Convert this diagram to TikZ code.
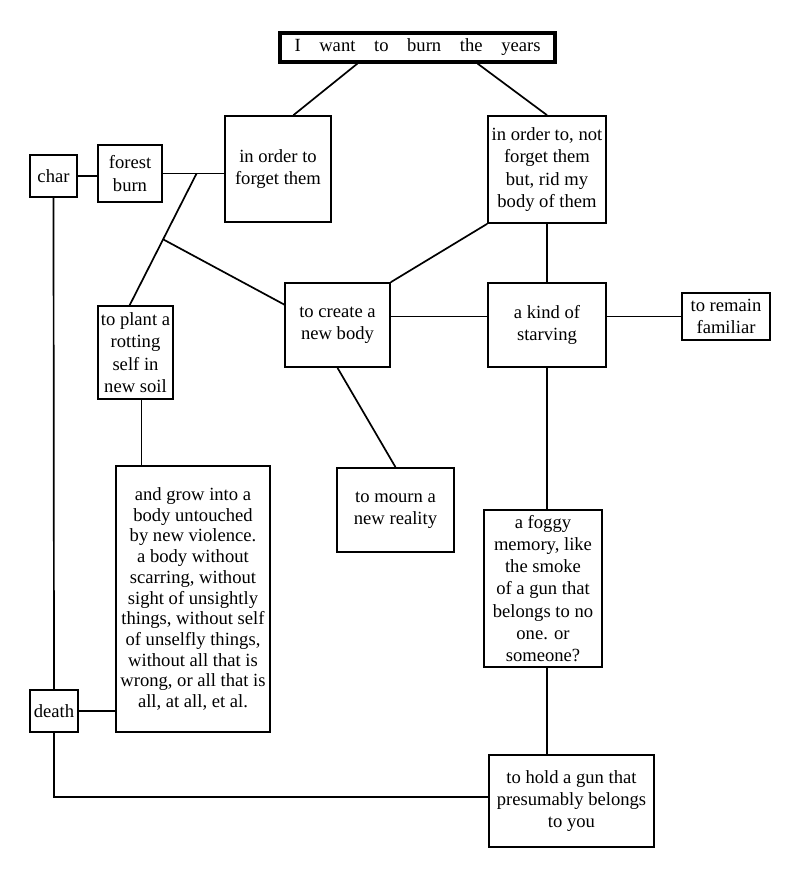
\documentclass[tikz,border=0pt]{standalone}
\usepackage{fontspec}
\setmainfont{Liberation Serif}
\usetikzlibrary{calc}

\begin{document}
\begin{tikzpicture}[x=1pt,y=-1pt,
        box/.style={draw, line width=1.7pt, inner sep=0pt, align=center,
          font=\fontsize{18.6}{22.3}\selectfont},
        link/.style={line width=1.7pt}]
        \useasboundingbox (0,0) rectangle (800,871);

        \node[box, line width=3.2pt, minimum width=275, minimum height=29] at (417.5,47.5) (title)
          {\makebox[246pt]{I\hfill want\hfill to\hfill burn\hfill the\hfill years}};
        \node[box, minimum width=106, minimum height=106] at (278,169) (forget) {in order to\\forget them};
        \node[box, minimum width=118, minimum height=107] at (547,169.5) (ridbody)
          {in order to, not\\forget them\\but, rid my\\body of them};
        \node[box, minimum width=47, minimum height=42] at (53.5,176) (char) {char};
        \node[box, minimum width=64, minimum height=57] at (130,173.5) (forest) {forest\\burn};
        \node[box, minimum width=75, minimum height=93] at (135.5,352.5) (plant)
          {to plant a\\rotting\\self in\\new soil};
        \node[box, minimum width=105, minimum height=84] at (337.5,325) (create) {to create a\\new body};
        \node[box, minimum width=118, minimum height=84] at (547,325) (starving) {a kind of\\starving};
        \node[box, minimum width=88, minimum height=47] at (726,316.5) (familiar) {to remain\\familiar};
        \node[box, minimum width=117, minimum height=84] at (395.5,510) (mourn) {to mourn a\\new reality};
        \node[box, minimum width=118, minimum height=157] at (543,588.5) (foggy)
          {a foggy\\memory, like\\the smoke\\of a gun that\\belongs to no\\one. or\\someone?};
        \node[box, minimum width=154, minimum height=266, font=\fontsize{18.6}{20.7}\selectfont] at (193,599) (grow)
          {and grow into a\\body untouched\\by new violence.\\a body without\\scarring, without\\sight of unsightly\\things, without self\\of unselfly things,\\without all that is\\wrong, or all that is\\all, at all, et al.};
        \node[box, minimum width=48, minimum height=42] at (54,711) (death) {death};
        \node[box, minimum width=165, minimum height=92] at (571.5,801) (hold)
          {to hold a gun that\\presumably belongs\\to you};

        % branches off the forest burn line
        \coordinate (j1) at ($(forest.east)!0.55!(forest.east -| forget.west)$);
        \coordinate (j2) at ($(j1)!0.5!(plant.97)$);

        \draw[link] (title.195) -- (forget.74);
        \draw[link] (title.-15) -- (ridbody.north);
        \draw[link] (char.east) -- (char.east -| forest.west);
        \draw[link] (forest.east) -- (forest.east -| forget.west);
        \draw[link] (j1) -- (plant.97);
        \draw[link] (j2) -- (create.159);
        \draw[link] (char.south) -- (death.north);
        \draw[link] (death.east) -- (death.east -| grow.west);
        \draw[link] (death.south) |- ($(hold.west)+(0,-4)$);
        \draw[link] ($(plant.south)+(6,0)$) -- ($(plant.south |- grow.north)+(6,0)$);
        \draw[link] (create.north east) -- (ridbody.south west);
        \draw[link] (create.east |- familiar.west) -- (starving.west |- familiar.west);
        \draw[link] (ridbody.south) -- (starving.north);
        \draw[link] (starving.east |- familiar.west) -- (familiar.west);
        \draw[link] (starving.south) -- (starving.south |- foggy.north);
        \draw[link] (create.south) -- (mourn.north);
        \draw[link] (starving.south |- foggy.south) -- (starving.south |- hold.north);
\end{tikzpicture}
\end{document}
